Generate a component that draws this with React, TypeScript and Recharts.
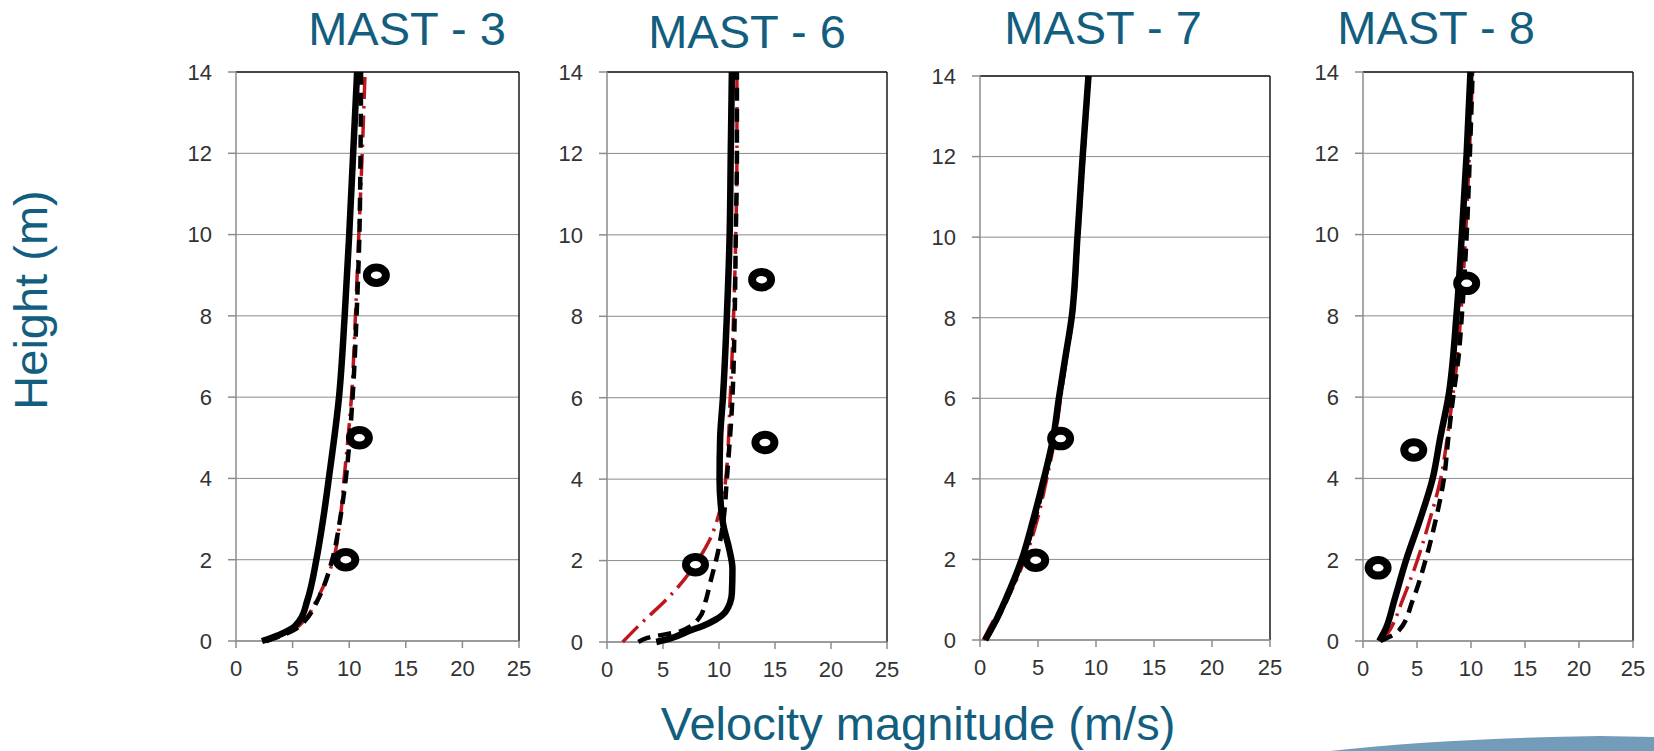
import React from "react";
import {
  ScatterChart,
  Scatter,
  XAxis,
  YAxis,
  CartesianGrid,
  ReferenceLine,
} from "recharts";

const FONT = '"Liberation Sans", Arial, Helvetica, sans-serif';
const TEAL = "#135e7e";
const RED = "#bf161e";
const GRID = "#8c8c8c";

const X_TICKS = [0, 5, 10, 15, 20, 25];
const Y_TICKS = [0, 2, 4, 6, 8, 10, 12, 14];

// MAST - 3
const M3_H = [0, 0.15, 0.3, 0.5, 1, 2, 3, 4, 6, 8, 10, 12, 14];
const M3_SOLID = [2.3, 3.8, 4.9, 5.6, 6.3, 7.1, 7.7, 8.2, 9.1, 9.6, 10.0, 10.35, 10.7];
const M3_DASH = [2.7, 4.2, 5.3, 6.1, 7.2, 8.5, 9.2, 9.7, 10.3, 10.65, 10.9, 11.0, 11.05];
const M3_DASHDOT = [2.3, 4.0, 5.2, 6.0, 7.1, 8.6, 9.2, 9.55, 10.2, 10.55, 10.85, 11.15, 11.4];
const M3_MEAS_V = [12.4, 10.9, 9.7];
const M3_MEAS_H = [9.0, 5.0, 2.0];

// MAST - 6
const M6_SOLID_H = [0, 0.05, 0.15, 0.27, 0.4, 0.55, 0.75, 1.2, 1.8, 2.3, 2.85, 3.4, 4, 5, 6, 8, 10, 12, 14];
const M6_SOLID = [4.4, 5.2, 6.3, 7.3, 8.6, 9.7, 10.6, 11.15, 11.2, 10.9, 10.4, 10.15, 10.05, 10.1, 10.35, 10.7, 10.95, 11.05, 11.15];
const M6_DASH_H = [0, 0.1, 0.27, 0.62, 1.0, 1.44, 2.2, 3, 4, 6, 8, 10, 12, 14];
const M6_DASH = [2.8, 3.6, 6.6, 8.3, 8.8, 9.2, 9.9, 10.4, 10.7, 11.2, 11.4, 11.5, 11.6, 11.6];
const M6_DASHDOT_H = [0, 0.5, 1, 1.5, 2, 2.5, 3.2, 4, 6, 8, 10, 12, 14];
const M6_DASHDOT = [1.4, 3.2, 5.15, 6.8, 8.1, 9.15, 10.05, 10.6, 11.0, 11.3, 11.5, 11.6, 11.6];
const M6_MEAS_V = [13.8, 14.1, 7.9];
const M6_MEAS_H = [8.9, 4.9, 1.9];

// MAST - 7
const M7_H = [0, 0.5, 1, 2, 3, 4, 5, 6, 7, 8, 10, 12, 14];
const M7_SOLID = [0.45, 1.4, 2.2, 3.6, 4.6, 5.5, 6.3, 6.8, 7.35, 7.9, 8.4, 8.85, 9.35];
const M7_DASH = [0.5, 1.45, 2.3, 3.7, 4.75, 5.6, 6.35, 6.85, 7.4, 7.95, 8.45, 8.9, 9.4];
const M7_DASHDOT = [0.3, 1.2, 2.3, 3.85, 4.95, 5.75, 6.45, 6.95, 7.45, 7.95, 8.45, 8.9, 9.4];
const M7_MEAS_V = [6.95, 4.8];
const M7_MEAS_H = [5.0, 1.98];

// MAST - 8
const M8_SOLID_H = [0, 0.3, 1, 2, 3, 4, 5, 6, 8, 10, 12, 14];
const M8_SOLID = [1.5, 2.1, 2.9, 4.0, 5.3, 6.45, 7.15, 7.9, 8.65, 9.15, 9.6, 9.95];
const M8_DASH_H = [0, 0.25, 1, 2, 3, 4, 5, 6, 7, 8, 10, 12, 14];
const M8_DASH = [1.6, 3.3, 4.6, 5.8, 6.75, 7.5, 7.9, 8.35, 8.85, 9.15, 9.6, 9.9, 10.15];
const M8_DASHDOT_H = [0, 0.3, 1, 2, 3, 4, 5, 6, 7, 8, 10, 12, 14];
const M8_DASHDOT = [1.8, 2.55, 3.65, 5.05, 6.2, 7.2, 7.8, 8.3, 8.75, 9.05, 9.5, 9.85, 10.15];
const M8_MEAS_V = [9.6, 4.7, 1.4];
const M8_MEAS_H = [8.8, 4.7, 1.8];

type Pt = { v: number; h: number };
const zip = (vs: number[], hs: number[]): Pt[] => vs.map((v, i) => ({ v, h: hs[i] }));

type PanelProps = {
  left: number;
  top: number;
  plotW: number;
  plotH: number;
  solid: Pt[];
  dash: Pt[];
  dashdot: Pt[];
  meas: Pt[];
};

const MARGIN_TOP = 15;
const MARGIN_RIGHT = 20;
const Y_AXIS_W = 70;
const X_AXIS_H = 50;
const TICK_SIZE = 22;

const hidden = () => <g />;

// thick open ring, a bit wider than tall
const ringMarker = (props: any) => (
  <ellipse
    cx={props.cx}
    cy={props.cy}
    rx={9.5}
    ry={7.75}
    fill="#fff"
    stroke="#000"
    strokeWidth={8}
  />
);

const xTick = (props: any) => (
  <text
    x={props.x}
    y={props.y}
    dy="0.71em"
    textAnchor="middle"
    fill="#333"
    fontSize={TICK_SIZE}
    fontFamily={FONT}
  >
    {props.payload.value}
  </text>
);

const yTick = (props: any) => (
  <text
    x={props.x}
    y={props.y}
    dy="0.355em"
    textAnchor="end"
    fill="#333"
    fontSize={TICK_SIZE}
    fontFamily={FONT}
  >
    {props.payload.value}
  </text>
);

function Panel({ left, top, plotW, plotH, solid, dash, dashdot, meas }: PanelProps) {
  return (
    <div style={{ position: "absolute", left: left - Y_AXIS_W, top: top - MARGIN_TOP }}>
      <ScatterChart
        width={Y_AXIS_W + plotW + MARGIN_RIGHT}
        height={MARGIN_TOP + plotH + X_AXIS_H}
        margin={{ top: MARGIN_TOP, right: MARGIN_RIGHT, bottom: 0, left: 0 }}
      >
        <CartesianGrid vertical={false} stroke={GRID} strokeWidth={1} />
        <XAxis
          type="number"
          dataKey="v"
          domain={[0, 25]}
          ticks={X_TICKS}
          height={X_AXIS_H}
          tick={xTick}
          tickSize={7}
          tickMargin={12}
          axisLine={{ stroke: GRID, strokeWidth: 1.5 }}
          tickLine={{ stroke: GRID, strokeWidth: 1.5 }}
        />
        <YAxis
          type="number"
          dataKey="h"
          domain={[0, 14]}
          ticks={Y_TICKS}
          width={Y_AXIS_W}
          tick={yTick}
          tickSize={8}
          tickMargin={16}
          axisLine={{ stroke: GRID, strokeWidth: 1.5 }}
          tickLine={{ stroke: GRID, strokeWidth: 1.5 }}
        />
        <ReferenceLine y={14} stroke="#1a1a1a" strokeWidth={1.5} />
        <ReferenceLine x={25} stroke="#1a1a1a" strokeWidth={1.5} />
        <Scatter
          data={dashdot}
          shape={hidden}
          line={{ stroke: RED, strokeWidth: 3.5, strokeDasharray: "22 7 2.5 7" }}
          lineJointType="monotoneY"
          isAnimationActive={false}
        />
        <Scatter
          data={dash}
          shape={hidden}
          line={{ stroke: "#000", strokeWidth: 4.5, strokeDasharray: "13 8" }}
          lineJointType="monotoneY"
          isAnimationActive={false}
        />
        <Scatter
          data={solid}
          shape={hidden}
          line={{ stroke: "#000", strokeWidth: 6.5 }}
          lineJointType="monotoneY"
          isAnimationActive={false}
        />
        <Scatter data={meas} shape={ringMarker} isAnimationActive={false} />
      </ScatterChart>
    </div>
  );
}

export default function App() {
  return (
    <div
      style={{
        position: "absolute",
        left: 0,
        top: 0,
        width: 1654,
        height: 751,
        background: "#fff",
        overflow: "hidden",
      }}
    >
      <Panel
        left={236}
        top={72}
        plotW={283}
        plotH={569}
        solid={zip(M3_SOLID, M3_H)}
        dash={zip(M3_DASH, M3_H)}
        dashdot={zip(M3_DASHDOT, M3_H)}
        meas={zip(M3_MEAS_V, M3_MEAS_H)}
      />
      <Panel
        left={607}
        top={72}
        plotW={280}
        plotH={570}
        solid={zip(M6_SOLID, M6_SOLID_H)}
        dash={zip(M6_DASH, M6_DASH_H)}
        dashdot={zip(M6_DASHDOT, M6_DASHDOT_H)}
        meas={zip(M6_MEAS_V, M6_MEAS_H)}
      />
      <Panel
        left={980}
        top={76}
        plotW={290}
        plotH={564}
        solid={zip(M7_SOLID, M7_H)}
        dash={zip(M7_DASH, M7_H)}
        dashdot={zip(M7_DASHDOT, M7_H)}
        meas={zip(M7_MEAS_V, M7_MEAS_H)}
      />
      <Panel
        left={1363}
        top={72}
        plotW={270}
        plotH={569}
        solid={zip(M8_SOLID, M8_SOLID_H)}
        dash={zip(M8_DASH, M8_DASH_H)}
        dashdot={zip(M8_DASHDOT, M8_DASHDOT_H)}
        meas={zip(M8_MEAS_V, M8_MEAS_H)}
      />
      <svg
        width={1654}
        height={751}
        style={{ position: "absolute", left: 0, top: 0, pointerEvents: "none" }}
      >
        <path d="M 1330 751 Q 1450 738 1600 736 L 1654 737 L 1654 751 Z" fill="#729cba" />
        <g fill={TEAL} fontFamily={FONT} fontSize={47} textAnchor="middle">
          <text x={407} y={45}>MAST - 3</text>
          <text x={747} y={48}>MAST - 6</text>
          <text x={1103} y={44}>MAST - 7</text>
          <text x={1436} y={44}>MAST - 8</text>
          <text x={918} y={740}>Velocity magnitude (m/s)</text>
          <text x={0} y={0} transform="translate(47 300) rotate(-90)">
            Height (m)
          </text>
        </g>
      </svg>
    </div>
  );
}
